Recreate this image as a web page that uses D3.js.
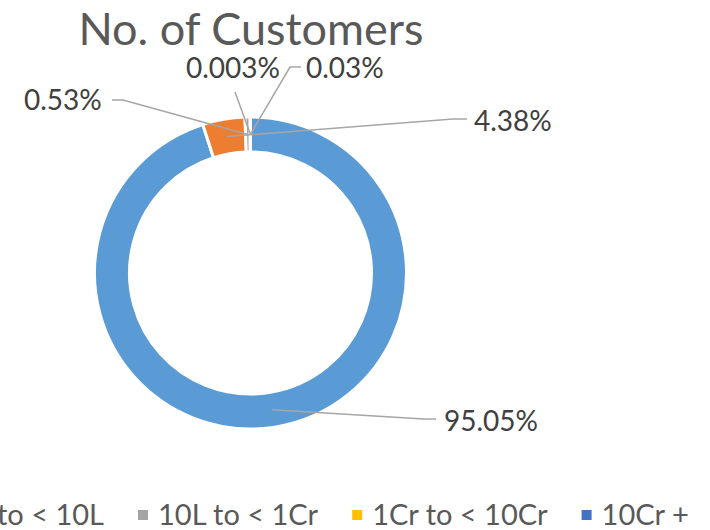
<!DOCTYPE html>
<html>
<head>
<meta charset="utf-8">
<script src="https://cdn.jsdelivr.net/npm/d3@7"></script>
<style>
  html, body { margin: 0; padding: 0; background: #fff; }
  svg { display: block; }
  text { font-family: Lato, "Open Sans", sans-serif; }
</style>
</head>
<body>
<svg id="chart" width="710" height="530"></svg>
<script>
// Share of customers by turnover band
const categories = ["< 1L", "1L to < 10L", "10L to < 1Cr", "1Cr to < 10Cr", "10Cr +"];
const shares = [95.05, 4.38, 0.53, 0.03, 0.003];
const shareLabels = ["95.05%", "4.38%", "0.53%", "0.03%", "0.003%"];
const colors = ["#5B9BD5", "#ED7D31", "#A5A5A5", "#FFC000", "#4472C4"];

// Label placement and leader-line geometry (label end point, elbow)
const labelLayout = [
  { x: 444, y: 431, line: [[436, 419], [424, 419]] },
  { x: 474, y: 131, line: [[467, 119], [453, 119]] },
  { x: 24,  y: 110, line: [[112, 100], [123, 100]] },
  { x: 306, y: 78,  line: [[301, 67], [290, 67]] },
  { x: 186, y: 78,  line: [[235, 92], [235, 92]] }
];

const svg = d3.select("#chart");
const cx = 250.5, cy = 273;
const outerR = 156, innerR = 121;

// Title
svg.append("text")
  .attr("x", 251).attr("y", 45)
  .attr("text-anchor", "middle")
  .attr("font-size", 45)
  .attr("fill", "#595959")
  .text("No. of Customers");

// Donut
const data = categories.map((c, i) => ({ category: c, value: shares[i], label: shareLabels[i], color: colors[i] }));
const pie = d3.pie().value(d => d.value).sort(null);
const arc = d3.arc().innerRadius(innerR).outerRadius(outerR);
const arcs = pie(data);

const g = svg.append("g").attr("transform", `translate(${cx},${cy})`);
g.selectAll("path.slice")
  .data(arcs)
  .join("path")
  .attr("class", "slice")
  .attr("d", arc)
  .attr("fill", d => d.data.color)
  .attr("stroke", "#fff")
  .attr("stroke-width", 3);

// Leader lines
const line = d3.line();
svg.append("g").selectAll("path.leader")
  .data(arcs)
  .join("path")
  .attr("class", "leader")
  .attr("d", (d, i) => {
    const c = arc.centroid(d);
    const pts = labelLayout[i].line.concat([[cx + c[0], cy + c[1]]]);
    return line(pts);
  })
  .attr("fill", "none")
  .attr("stroke", "#A6A6A6")
  .attr("stroke-width", 1.5);

// Data labels
svg.append("g").selectAll("text.label")
  .data(arcs)
  .join("text")
  .attr("class", "label")
  .attr("x", (d, i) => labelLayout[i].x)
  .attr("y", (d, i) => labelLayout[i].y)
  .attr("font-size", 28)
  .attr("fill", "#404040")
  .text(d => d.data.label);

// Legend row (wider than the chart, flows off the left edge)
const legend = svg.append("g");
const items = legend.selectAll("g.item")
  .data(data)
  .join("g")
  .attr("class", "item");
items.append("rect")
  .attr("width", 10).attr("height", 10)
  .attr("fill", d => d.color);
items.append("text")
  .attr("x", 20).attr("y", 15)
  .attr("font-size", 29)
  .attr("fill", "#595959")
  .text(d => d.category);

const gapAfter = 34;
const widths = [];
items.each(function () {
  const t = d3.select(this).select("text").node().getComputedTextLength();
  widths.push(20 + t + gapAfter);
});
// third entry's swatch sits at x = 138
let x0 = 138 - widths[0] - widths[1];
items.attr("transform", (d, i) => {
  const x = x0;
  x0 += widths[i];
  return `translate(${x},510)`;
});
</script>
</body>
</html>
